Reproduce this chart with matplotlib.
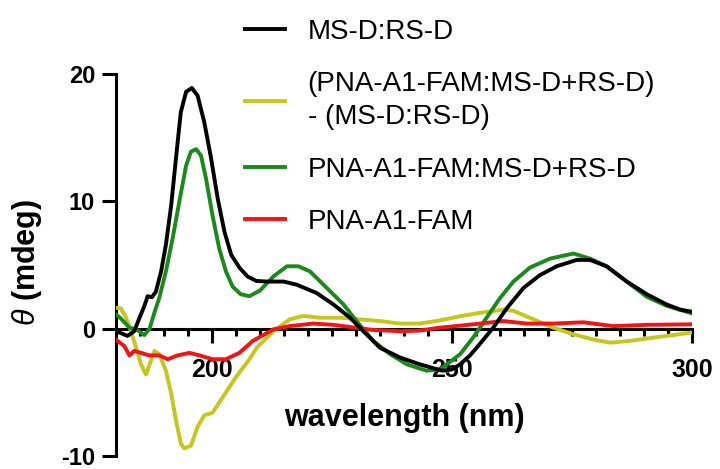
import matplotlib
matplotlib.use("Agg")
import matplotlib.pyplot as plt

plt.rcParams['font.family'] = ['Liberation Sans', 'DejaVu Sans']
plt.rcParams['mathtext.fontset'] = 'custom'
plt.rcParams['mathtext.it'] = 'Liberation Sans:italic'
plt.rcParams['mathtext.rm'] = 'Liberation Sans'
plt.rcParams['axes.unicode_minus'] = False

# MS-D:RS-D (black)
wl_black = [180, 180.7, 182.4, 183.8, 184.9, 185.9, 186.6, 187.5, 188.3, 189.4, 190.4, 191.5,
            192.5, 193.5, 194.6, 195.8, 197, 198.4, 199.8, 201.2, 202.6, 204, 205.7, 207.4,
            209.2, 211.4, 214.9, 217.6, 221.8, 225.3, 228.75, 231.5, 235, 239.2, 243.3, 246.1,
            248, 250, 251.7, 253.75, 255.8, 258.6, 261.4, 264.9, 268.3, 271.8, 276, 278.75,
            282.2, 286.4, 290.6, 294.7, 297.5, 300]
cd_black = [-0.1, -0.3, -0.57, -0.2, 0.86, 1.77, 2.55, 2.47, 2.9, 4.5, 6.6, 9.7,
            13.4, 17.0, 18.6, 18.9, 18.3, 16.2, 13.4, 10.2, 7.6, 5.8, 4.8, 4.1,
            3.75, 3.7, 3.7, 3.46, 2.8, 1.9, 0.86, -0.18, -1.5, -2.27, -2.8, -3.1,
            -3.3, -3.2, -2.8, -2.1, -1.2, 0.08, 1.6, 3.2, 4.2, 4.9, 5.4, 5.4,
            4.9, 3.7, 2.7, 1.9, 1.5, 1.33]

# (PNA-A1-FAM:MS-D+RS-D) - (MS-D:RS-D) (yellow)
wl_diff = [180, 181, 182.1, 183.1, 184.2, 185.2, 186.25, 187.3, 188, 189, 190.4, 191.5,
           192.5, 193.5, 194.2, 195.6, 197, 198.4, 200.1, 202.2, 205, 207.8, 209.3, 212.8,
           216.2, 219, 222.5, 226.7, 230.8, 235, 239.2, 243.3, 247.5, 251.7, 255.8, 260.7,
           262.8, 267, 271.1, 275.3, 279.4, 282.9, 287.1, 292, 296.1, 300]
cd_diff = [1.64, 1.6, 0.86, -0.18, -1.5, -2.8, -3.6, -2.5, -1.75, -2.0, -3.3, -5.1,
           -7.2, -9.0, -9.4, -9.2, -7.7, -6.8, -6.6, -5.4, -3.8, -2.4, -1.5, -0.2,
           0.73, 1.0, 0.86, 0.86, 0.73, 0.6, 0.4, 0.4, 0.65, 0.98, 1.24, 1.5,
           1.4, 0.73, 0.08, -0.44, -0.85, -1.1, -0.96, -0.7, -0.5, -0.3]

# PNA-A1-FAM:MS-D+RS-D (green)
wl_green = [180, 181, 182.8, 184.2, 185.9, 187, 188.2, 189, 190.4, 191.8, 193.2, 194.6,
            195.6, 196.7, 197.7, 198.75, 200.1, 201.5, 202.9, 204.3, 206, 207.8, 210, 212.8,
            215.6, 218, 220.4, 223.9, 227.4, 230.1, 233.6, 237.1, 240.6, 244.7, 247.5, 251.7,
            254.4, 257.2, 260, 262.8, 266.25, 270.4, 275.3, 278.75, 282.2, 286.4, 290.6,
            294.7, 300]
cd_green = [1.1, 0.8, 0.08, -0.05, -0.5, 0.0, 1.5, 2.4, 4.5, 7.1, 10.0, 12.8,
            13.9, 14.1, 13.6, 11.8, 8.9, 6.3, 4.5, 3.3, 2.7, 2.55, 3.0, 4.1,
            4.9, 4.9, 4.5, 3.2, 1.9, 0.6, -0.96, -2.0, -2.8, -3.3, -3.2, -2.0,
            -0.7, 0.86, 2.4, 3.7, 4.8, 5.5, 5.9, 5.5, 4.9, 3.7, 2.5,
            1.8, 1.2]

# PNA-A1-FAM (red)
wl_red = [180, 180.3, 181.7, 182.8, 183.8, 185.2, 186.9, 189, 190.8, 192.8, 195.3, 197.4,
          200.1, 202.9, 205.7, 208.5, 212.8, 216.2, 221.1, 225.3, 229.4, 233.6, 239.2,
          243.3, 247.5, 254.4, 260.7, 265.6, 271.1, 277.4, 283.6, 290.6, 300]
cd_red = [-0.85, -0.96, -1.35, -2.1, -1.75, -1.9, -2.1, -2.1, -2.4, -2.1, -1.9, -2.1,
          -2.4, -2.4, -1.9, -0.96, -0.05, 0.2, 0.4, 0.3, 0.1, -0.1, -0.2,
          -0.15, 0.08, 0.34, 0.6, 0.4, 0.4, 0.5, 0.2, 0.3, 0.34]

labels = ['MS-D:RS-D', '(PNA-A1-FAM:MS-D+RS-D)\n- (MS-D:RS-D)',
          'PNA-A1-FAM:MS-D+RS-D', 'PNA-A1-FAM']
colors = ['#000000', '#c6c61c', '#1a8a1a', '#f21414']

fig = plt.figure(figsize=(7.2, 4.69), dpi=100)
ax = fig.add_axes([116 / 720, 1 - 456 / 469, 576 / 720, 382 / 469])

lw = 2.8
h_diff, = ax.plot(wl_diff, cd_diff, color=colors[1], lw=lw, label=labels[1])
h_green, = ax.plot(wl_green, cd_green, color=colors[2], lw=lw, label=labels[2])
h_red, = ax.plot(wl_red, cd_red, color=colors[3], lw=lw, label=labels[3])
h_black, = ax.plot(wl_black, cd_black, color=colors[0], lw=lw, label=labels[0])

ax.set_xlim(180, 300)
ax.set_ylim(-10, 20)
ax.spines['top'].set_visible(False)
ax.spines['right'].set_visible(False)
ax.spines['bottom'].set_position(('data', 0))
for s in ['left', 'bottom']:
    ax.spines[s].set_linewidth(2.2)
    ax.spines[s].set_zorder(1)
ax.set_axisbelow(True)

ax.set_xticks([200, 250, 300])
ax.set_xticks(range(185, 300, 5), minor=True)
ax.set_yticks([-10, 0, 10, 20])
ax.tick_params(axis='both', which='major', length=10, width=2.2)
ax.tick_params(axis='x', which='major', labelsize=18, pad=11)
ax.tick_params(axis='y', which='major', labelsize=17, pad=5)
ax.tick_params(axis='x', which='minor', length=5, width=2.2)
for t in ax.get_xticklabels() + ax.get_yticklabels():
    t.set_fontweight('bold')

ax.set_xlabel('wavelength (nm)', fontsize=22, fontweight='bold')
ax.xaxis.set_label_coords(0.5, 0.14)
ax.set_ylabel(r'$\theta$ (mdeg)', fontsize=22, fontweight='bold')
ax.yaxis.set_label_coords(-0.125, 0.508)

leg = fig.legend([h_black, h_diff, h_green, h_red], labels, loc='upper left',
                 bbox_to_anchor=(245 / 720, 1 - 19 / 469), frameon=False, fontsize=20,
                 borderpad=0, borderaxespad=0, handlelength=1.45, handletextpad=0.8,
                 labelspacing=0.95)
leg.get_texts()[1].set_linespacing(1.35)

fig.savefig('out.png', dpi=100)
